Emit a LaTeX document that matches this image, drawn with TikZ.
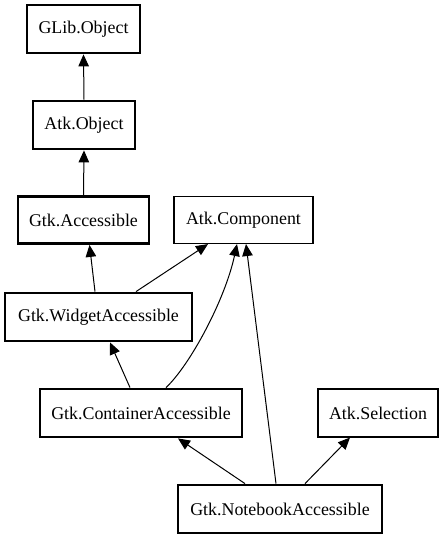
\documentclass[tikz,border=0pt]{standalone}
\usepackage{fontspec}
\setmainfont{Liberation Serif}
\usetikzlibrary{arrows.meta}
\begin{document}
\begin{tikzpicture}[x=1pt,y=-1pt,
  box/.style={draw,line width=1.1pt,inner sep=0pt,font=\fontsize{17.9}{20}\selectfont},
  thickbox/.style={box,line width=2.8pt},
  edge/.style={line width=1pt,-{Triangle[length=12pt,width=10.5pt]}}]
\useasboundingbox (0,0) rectangle (444,539);
\node[thickbox,minimum width=113pt,minimum height=48pt] (glib) at (83.5,29) {GLib.Object};
\node[thickbox,minimum width=102pt,minimum height=48pt] (atkobj) at (84,125) {Atk.Object};
\node[thickbox,minimum width=131pt,minimum height=47pt] (gtkacc) at (83.5,220) {Gtk.Accessible};
\node[box,minimum width=139pt,minimum height=47pt] (atkcomp) at (243.5,220) {Atk.Component};
\node[thickbox,minimum width=187pt,minimum height=48pt] (widget) at (98.5,317) {Gtk.WidgetAccessible};
\node[thickbox,minimum width=202pt,minimum height=48pt] (container) at (141,413) {Gtk.ContainerAccessible};
\node[box,minimum width=120pt,minimum height=48pt] (selection) at (378,413) {Atk.Selection};
\node[thickbox,minimum width=204pt,minimum height=48pt] (notebook) at (280,509) {Gtk.NotebookAccessible};

\draw[edge] (atkobj.north) -- (glib.south);
\draw[edge] (gtkacc.north) -- (atkobj.south);
\draw[edge] ([xshift=-3.5pt]widget.north) -- ([xshift=6pt]gtkacc.south);
\draw[edge] ([xshift=37.5pt]widget.north) -- ([xshift=-35.5pt]atkcomp.south);
\draw[edge] ([xshift=-11pt]container.north) -- ([xshift=11.5pt]widget.south);
\draw[edge] ([xshift=25pt]container.north) .. controls (190,365) and (225,300) .. ([xshift=-6.5pt]atkcomp.south);
\draw[edge] ([xshift=-4pt]notebook.north) -- ([xshift=2.5pt]atkcomp.south);
\draw[edge] ([xshift=-35pt]notebook.north) -- ([xshift=37pt]container.south);
\draw[edge] ([xshift=25pt]notebook.north) -- ([xshift=-28pt]selection.south);
\end{tikzpicture}
\end{document}
